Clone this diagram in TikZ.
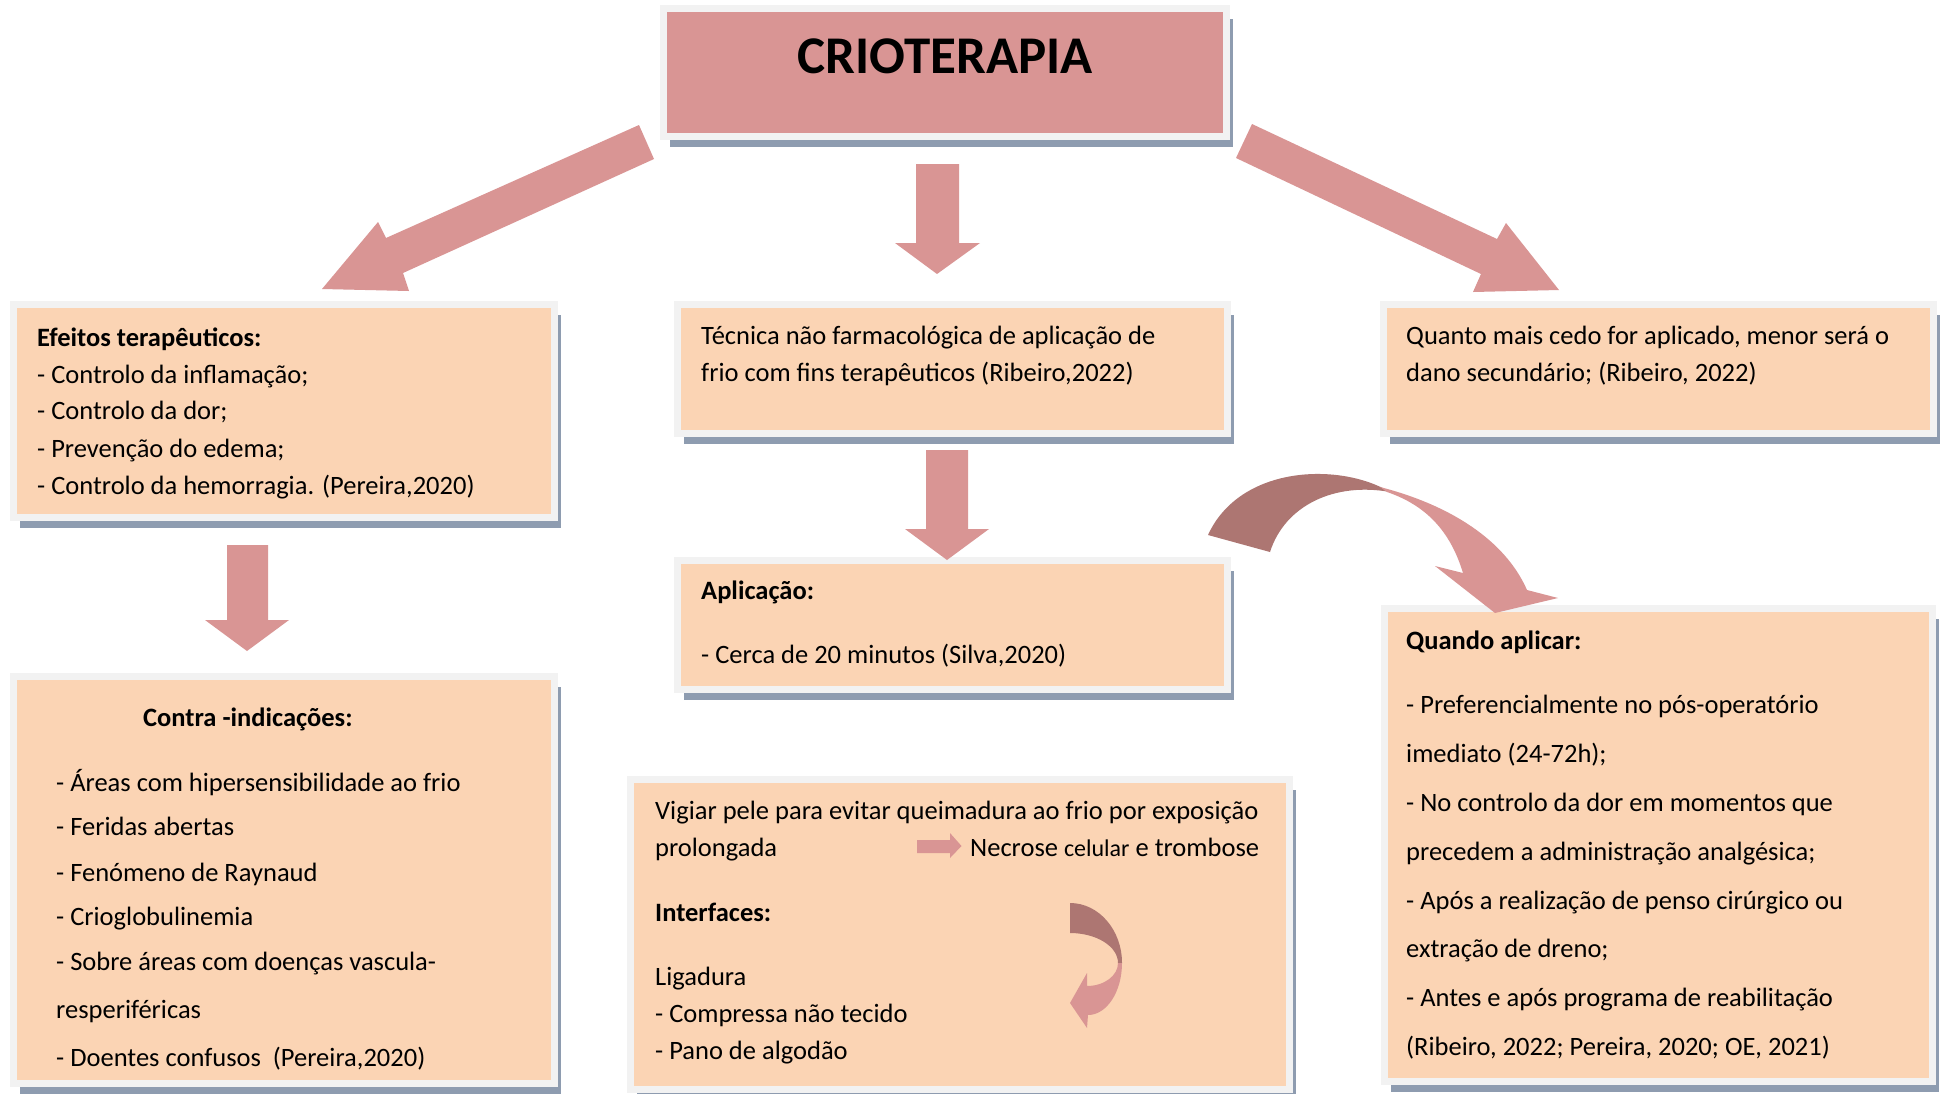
\documentclass[tikz,border=0pt]{standalone}
\usepackage{fontspec}
\setmainfont{Carlito}
\usetikzlibrary{shadows}
\definecolor{peach}{HTML}{FBD4B4}
\definecolor{rose}{HTML}{D99594}
\definecolor{darkrose}{HTML}{AD7672}
\definecolor{framegray}{HTML}{F2F2F2}
\definecolor{shadowc}{HTML}{8E9CB0}
\tikzset{
  boxbase/.style={draw=framegray, line width=7pt, rectangle, inner sep=0pt, outer sep=0pt, anchor=north west,
    drop shadow={shadow xshift=6.5pt, shadow yshift=-10pt, fill=shadowc, opacity=1}},
  peachbox/.style={boxbase, fill=peach},
  titlebox/.style={boxbase, fill=rose},
  txt/.style={anchor=base west, inner sep=0pt, font=\fontsize{26.5}{32}\selectfont},
  blockarrow/.style={fill=rose, draw=none},
  backarrow/.style={fill=darkrose, draw=none},
}
\begin{document}
\begin{tikzpicture}[x=1pt,y=-1pt]
\useasboundingbox (0,0) rectangle (1944,1093);
\fill[white] (0,0) rectangle (1944,1093);

% boxes
\node[titlebox, minimum width=563pt, minimum height=128pt] (title) at (663.5,8.5) {};
\node[peachbox, minimum width=541pt, minimum height=213pt] (efeitos) at (13.5,304.5) {};
\node[peachbox, minimum width=550pt, minimum height=129pt] (tecnica) at (677.5,304.5) {};
\node[peachbox, minimum width=550pt, minimum height=129pt] (quanto) at (1383.5,304.5) {};
\node[peachbox, minimum width=550pt, minimum height=129pt] (aplic) at (677.5,560.5) {};
\node[peachbox, minimum width=548pt, minimum height=473pt] (quando) at (1384.5,608.5) {};
\node[peachbox, minimum width=541pt, minimum height=407pt] (contra) at (13.5,676.5) {};
\node[peachbox, minimum width=659pt, minimum height=310pt] (vigiar) at (630.5,779.5) {};

% title text
\node[anchor=base, inner sep=0pt, font=\fontsize{53}{60}\selectfont\bfseries] (ttl) at (945,73) {CRIOTERAPIA};

% block arrows
\fill[blockarrow] (639,125) -- (386,238) -- (378,222) -- (322,289) -- (409,291) -- (403,273) -- (654,159) -- cycle;
\fill[blockarrow] (1252,124) -- (1497,239) -- (1506,223) -- (1559,290) -- (1473,292) -- (1481,274) -- (1236,158) -- cycle;
\fill[blockarrow] (916,164) -- (959,164) -- (959,243) -- (980,243) -- (937,274) -- (895,243) -- (916,243) -- cycle;
\fill[blockarrow] (926,450) -- (968,450) -- (968,529) -- (989,529) -- (947,560) -- (905,529) -- (926,529) -- cycle;
\fill[blockarrow] (227,545) -- (268,545) -- (268,620) -- (289,620) -- (247,651) -- (205,620) -- (227,620) -- cycle;
\fill[blockarrow] (917,840) -- (950,840) -- (950,833) -- (961.5,846) -- (950,858) -- (950,853) -- (917,853) -- cycle;

% big curved arrow
\fill[backarrow] (1208,535) .. controls (1240,465) and (1340,462) .. (1390,492)
  .. controls (1335,482) and (1285,505) .. (1270,552) -- cycle;
\fill[blockarrow] (1380,487) .. controls (1450,505) and (1505,540) .. (1527,590)
  -- (1558,598) -- (1495,613) -- (1435,566) -- (1463,573)
  .. controls (1450,530) and (1425,505) .. (1387,492) -- cycle;

% small curved arrow
\fill[backarrow] (1070,903) .. controls (1098.7,903) and (1122,929.9) .. (1122,963)
  -- (1118,963) .. controls (1118,946.4) and (1096.5,933) .. (1070,933) -- cycle;
\fill[blockarrow] (1122,963) .. controls (1122,991.7) and (1106.8,1015) .. (1088,1015)
  -- (1087,1028) -- (1070,1003) -- (1087,973) -- (1087,986)
  .. controls (1104.1,986) and (1118,975.7) .. (1118,963) -- cycle;

% texts: Efeitos
\foreach \yb/\lbl [count=\i] in {346/{\textbf{Efeitos terapêuticos:}}, 383/{- Controlo da inflamação;}, 419/{- Controlo da dor;}, 457/{- Prevenção do edema;}, 494/{- Controlo da hemorragia. (Pereira,2020)}}
  \node[txt] (ef\i) at (37,\yb) {\lbl};

% Tecnica
\node[txt] (tec1) at (701,344) {Técnica não farmacológica de aplicação de};
\node[txt] (tec2) at (701,381) {frio com fins terapêuticos (Ribeiro,2022)};

% Quanto
\node[txt] (qt1) at (1406,344) {Quanto mais cedo for aplicado, menor será o};
\node[txt] (qt2) at (1406,381) {dano secundário; (Ribeiro, 2022)};

% Aplicacao
\node[txt] (ap1) at (701,599) {\textbf{Aplicação:}};
\node[txt] (ap2) at (701,663) {- Cerca de 20 minutos (Silva,2020)};

% Quando
\foreach \yb/\lbl [count=\i] in {649/{\textbf{Quando aplicar:}}, 713/{- Preferencialmente no pós-operatório}, 762/{imediato (24-72h);}, 811/{- No controlo da dor em momentos que}, 860/{precedem a administração analgésica;}, 909/{- Após a realização de penso cirúrgico ou}, 957/{extração de dreno;}, 1006/{- Antes e após programa de reabilitação}, 1055/{(Ribeiro, 2022; Pereira, 2020; OE, 2021)}}
  \node[txt] (qd\i) at (1406,\yb) {\lbl};

% Contra
\node[txt] (ct0) at (143,726) {\textbf{Contra -indicações:}};
\foreach \yb/\lbl [count=\i] in {791/{- Áreas com hipersensibilidade ao frio}, 835/{- Feridas abertas}, 881/{- Fenómeno de Raynaud}, 925/{- Crioglobulinemia}, 970/{- Sobre áreas com doenças vascula-}, 1018/{resperiféricas}, 1066/{- Doentes confusos~ (Pereira,2020)}}
  \node[txt] (ct\i) at (56,\yb) {\lbl};

% Vigiar
\node[txt] (vg1) at (655,819) {Vigiar pele para evitar queimadura ao frio por exposição};
\node[txt] (vg2) at (655,856) {prolongada};
\node[txt] (vg3) at (970,856) {Necrose {\fontsize{24}{28}\selectfont celular} e trombose};
\node[txt] (vg4) at (655,921) {\textbf{Interfaces:}};
\node[txt] (vg5) at (655,985) {Ligadura};
\node[txt] (vg6) at (655,1022) {- Compressa não tecido};
\node[txt] (vg7) at (655,1059) {- Pano de algodão};
\end{tikzpicture}
\end{document}
